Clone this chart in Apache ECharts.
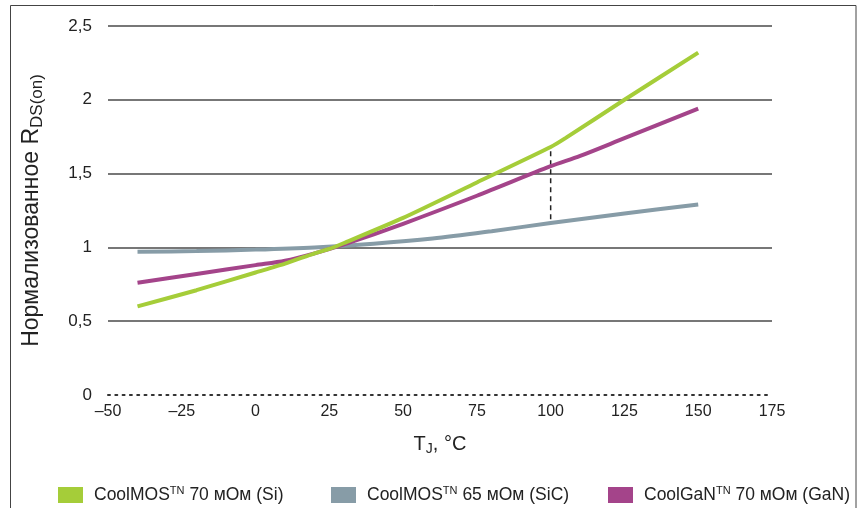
<!DOCTYPE html>
<html><head><meta charset="utf-8">
<script src="https://cdn.jsdelivr.net/npm/echarts@6/dist/echarts.min.js"></script>
<style>html,body{margin:0;padding:0;background:#fff}#c{width:857px;height:508px}</style>
</head><body><div id="c"></div>
<script>
const seriesNames = ['CoolMOS 70 мОм (Si)', 'CoolMOS 65 мОм (SiC)', 'CoolGaN 70 мОм (GaN)'];
const siT   = [-40, -20, 0, 10, 20, 25, 30, 50, 75, 100, 105, 125, 150];
const siV   = [0.60, 0.71, 0.83, 0.89, 0.96, 0.99, 1.03, 1.20, 1.44, 1.68, 1.74, 2.00, 2.32];
const sicT  = [-40, -20, 0, 20, 40, 60, 80, 100, 125, 150];
const sicV  = [0.97, 0.975, 0.985, 1.00, 1.025, 1.06, 1.11, 1.165, 1.23, 1.29];
const ganT  = [-40, -20, 0, 10, 20, 30, 50, 75, 100, 110, 125, 150];
const ganV  = [0.76, 0.82, 0.88, 0.91, 0.96, 1.02, 1.16, 1.35, 1.55, 1.62, 1.74, 1.94];
const dashT = [100, 100];
const dashV = [1.19, 1.68];
const xTicks = {min: -50, max: 175, step: 25};
const yTicks = {min: 0, max: 2.5, step: 0.5};
const colors = ['#a5cd39', '#879ca7', '#a4448a'];

const zip = (a, b) => a.map((v, i) => [v, b[i]]);
const chart = echarts.init(document.getElementById('c'));
const FONT = '"Liberation Sans", Arial, sans-serif';
const legendRich = {
  a: {fontSize: 17.5, color: '#222', fontFamily: FONT},
  sup: {fontSize: 11, color: '#222', fontFamily: FONT, padding: [0, 0, 9, 0]}
};
const legendFmt = n => {
  const m = n.match(/^(\S+)(.*)$/);
  return '{a|' + m[1] + '}{sup|TN}{a|' + m[2] + '}';
};
const legendBase = (name, left) => ({
  data: [name], left: left, top: 480, icon: 'rect', itemWidth: 25, itemHeight: 16, itemGap: 0,
  formatter: legendFmt, textStyle: {rich: legendRich, padding: [0, 0, 0, 6]}, selectedMode: false
});

chart.setOption({
  animation: false,
  textStyle: {fontFamily: FONT},
  graphic: [{type: 'rect', shape: {x: 10.5, y: 5.5, width: 845.5, height: 530}, style: {fill: 'none', stroke: '#444', lineWidth: 1}, silent: true}],
  grid: {left: 108, right: 85, top: 26, bottom: 113},
  legend: [legendBase(seriesNames[0], 53), legendBase(seriesNames[1], 326), legendBase(seriesNames[2], 603)],
  xAxis: {
    type: 'value', min: xTicks.min, max: xTicks.max, interval: xTicks.step,
    axisLine: {show: true, lineStyle: {color: '#333', width: 2, type: [2, 5.3]}},
    axisTick: {show: false}, splitLine: {show: false},
    axisLabel: {fontSize: 16, color: '#222', margin: 9, formatter: v => (v < 0 ? '–' + Math.abs(v) : '' + v)},
    name: '{a|T}{s|J}{a|, °C}', nameLocation: 'middle', nameGap: 37,
    nameTextStyle: {rich: {
      a: {fontSize: 20, color: '#222', fontFamily: FONT},
      s: {fontSize: 14, color: '#222', fontFamily: FONT, padding: [10, 0, 0, 0]}
    }}
  },
  yAxis: {
    type: 'value', min: yTicks.min, max: yTicks.max, interval: yTicks.step,
    axisLine: {show: false}, axisTick: {show: false},
    splitLine: {show: true, showMinLine: false, lineStyle: {color: '#4a4a4a', width: 1.5}},
    axisLabel: {fontSize: 17, color: '#222', margin: 16, formatter: v => ('' + v).replace('.', ',')},
    name: '{a|Нормализованное R}{s|DS(on)}', nameLocation: 'middle', nameGap: 62,
    nameTextStyle: {rich: {
      a: {fontSize: 23, color: '#222', fontFamily: FONT},
      s: {fontSize: 17, color: '#222', fontFamily: FONT, padding: [12, 0, 0, 0]}
    }}
  },
  series: [
    {name: seriesNames[1], type: 'line', data: zip(sicT, sicV), smooth: 0.3, showSymbol: false, lineStyle: {color: colors[1], width: 4}, itemStyle: {color: colors[1]}, z: 2},
    {name: seriesNames[2], type: 'line', data: zip(ganT, ganV), smooth: 0.3, showSymbol: false, lineStyle: {color: colors[2], width: 4}, itemStyle: {color: colors[2]}, z: 3},
    {name: seriesNames[0], type: 'line', data: zip(siT, siV), smooth: 0.2, showSymbol: false, lineStyle: {color: colors[0], width: 4}, itemStyle: {color: colors[0]}, z: 4},
    {name: 'dash', type: 'line', data: zip(dashT, dashV), showSymbol: false, lineStyle: {color: '#222', width: 1.5, type: [5, 4]}, z: 1}
  ]
});
</script></body></html>
